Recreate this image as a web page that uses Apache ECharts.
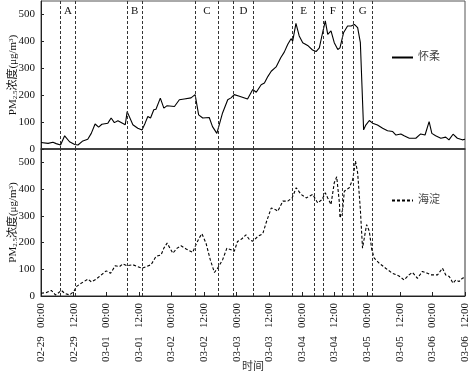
<!DOCTYPE html>
<html>
<head>
<meta charset="utf-8">
<script src="https://cdn.jsdelivr.net/npm/echarts@6/dist/echarts.min.js"></script>
<style>
  html, body { margin: 0; padding: 0; background: #fff; }
  #pmchart { width: 474px; height: 376px; }
</style>
</head>
<body>
<div id="pmchart"></div>
<script>
  // 时间按小时计，从 02-29 00:00 开始
  const huairouHours = [0, 0.7, 2.6, 4.4, 5.6, 7.2, 8.7, 10.5, 12.4, 13.6, 15.4, 17.2, 18.5, 19.9, 21.2, 22.4, 24.6, 25.8, 27.0, 28.3,
    31.0, 31.7, 33.8, 35.6, 37.2, 38.3, 39.3, 40.3, 41.5, 42.3, 43.9, 45.2, 46.4, 49.1, 50.9, 52.7, 55.2, 56.7, 58.0, 59.5,
    61.9, 63.1, 64.7, 65.3, 66.8, 68.7, 69.9, 71.1, 73.0, 76.0, 76.7, 77.9, 79.2, 81.0, 82.2, 83.5, 84.7, 86.5, 88.2, 89.5,
    90.8, 92.0, 92.6, 93.8, 95.0, 96.3, 98.1, 99.9, 101.2, 102.4, 103.6, 104.6, 105.5, 106.7, 107.9, 109.2, 110.0, 111.3, 112.8, 114.1,
    115.3, 116.5, 117.5, 118.1, 118.7, 119.5, 120.8, 122.0, 123.8, 125.7, 127.5, 129.4, 130.6, 132.4, 133.6, 135.5, 137.9, 139.7, 141.3, 142.8,
    143.8, 145.2, 147.1, 148.9, 150.1, 151.6, 153.2, 155.0, 156]
  const huairouPm = [24, 30, 21, 25, 20, 15, 49, 27, 17, 15, 30, 36, 58, 93, 81, 92, 96, 115, 98, 105,
    90, 139, 90, 77, 71, 96, 121, 115, 146, 148, 189, 152, 161, 158, 183, 186, 190, 202, 127, 115,
    117, 83, 58, 60, 134, 183, 190, 202, 196, 186, 193, 221, 211, 239, 245, 270, 289, 305, 339, 360,
    389, 410, 401, 467, 420, 395, 385, 368, 362, 376, 432, 476, 426, 439, 395, 370, 376, 432, 457, 457,
    463, 451, 395, 233, 71, 89, 106, 96, 89, 77, 68, 65, 52, 56, 49, 40, 40, 56, 52, 102,
    58, 49, 40, 44, 34, 55, 40, 34, 36]

  const haidianHours = [0, 0.7, 2.0, 3.8, 5.3, 6.2, 7.5, 8.7, 10.5, 12.1, 13.0, 14.8, 17.3, 18.5, 20.3, 22.2, 24.0, 25.6, 27.3, 28.9,
    30.1, 31.7, 33.8, 35.6, 37.2, 38.7, 40.5, 42.3, 44.2, 45.2, 46.4, 48.5, 50.1, 51.5, 53.4, 55.8, 57.0, 58.2, 59.2, 60.7,
    62.3, 63.8, 65.0, 66.8, 68.4, 69.9, 71.1, 72.3, 73.8, 75.4, 76.7, 77.9, 79.8, 81.6, 82.8, 84.7, 86.3, 87.1, 89.0, 90.8,
    92.4, 93.9, 95.7, 97.6, 98.8, 100.0, 101.8, 103.4, 104.6, 105.5, 106.7, 107.9, 108.8, 109.8, 110.0, 111.0, 111.6, 113.4, 114.7, 115.7,
    116.5, 117.5, 118.3, 118.9, 119.8, 120.8, 121.7, 122.6, 124.4, 126.8, 129.3, 131.7, 133.6, 135.4, 136.7, 138.5, 140.3, 142.2, 143.4, 144.6,
    145.9, 147.7, 148.9, 150.2, 151.6, 152.6, 153.8, 155.0, 156]
  const haidianPm = [10, 4, 13, 21, 4, 10, 21, 10, 4, 17, 35, 48, 63, 53, 63, 79, 94, 85, 113, 110,
    120, 113, 117, 110, 104, 110, 117, 148, 154, 179, 198, 160, 179, 188, 176, 163, 192, 217, 233, 198,
    135, 88, 104, 135, 179, 173, 167, 204, 213, 229, 211, 205, 223, 233, 273, 329, 323, 317, 355, 355,
    367, 405, 380, 367, 374, 380, 348, 361, 386, 367, 342, 424, 446, 348, 292, 323, 392, 405, 436, 505,
    461, 323, 179, 179, 267, 242, 173, 142, 123, 104, 85, 75, 60, 79, 88, 66, 92, 85, 79, 79,
    79, 104, 79, 73, 48, 60, 54, 66, 70]

  const tickLabels = ['02-29   00:00', '02-29   12:00', '03-01   00:00', '03-01   12:00', '03-02   00:00', '03-02   12:00', '03-03   00:00',
    '03-03   12:00', '03-04   00:00', '03-04   12:00', '03-05   00:00', '03-05   12:00', '03-06   00:00', '03-06   12:00']

  const periodNames = ['A', 'B', 'C', 'D', 'E', 'F', 'G']
  const periodStart = [7.2, 31.7, 56.7, 70.9, 92.6, 103.9, 115.0]
  const periodEnd = [12.7, 37.3, 65.3, 78.0, 100.6, 110.8, 121.8]

  const serif = "'Liberation Serif', 'Noto Sans CJK SC', serif"

  const pmChart = echarts.init(document.getElementById('pmchart'))

  const toPairs = (xs, ys) => xs.map((x, i) => [x, ys[i]])
  const bounds = periodStart.concat(periodEnd).map(v => ({ xAxis: v }))

  const markLine = {
    silent: true,
    symbol: 'none',
    label: { show: false },
    lineStyle: { color: '#333', type: [3, 2], width: 1 },
    data: bounds
  }

  const yAxisBase = (gridIndex) => ({
    type: 'value',
    gridIndex: gridIndex,
    min: 0,
    max: 550,
    interval: 100,
    name: 'PM{sub|2.5}浓度(μg/m{sup|3})',
    nameLocation: 'middle',
    nameGap: 22,
    nameMoveOverlap: false,
    nameTextStyle: {
      fontFamily: serif,
      fontSize: 11,
      color: '#111',
      rich: {
        sub: { fontSize: 7, fontFamily: serif, verticalAlign: 'bottom', color: '#111' },
        sup: { fontSize: 7, fontFamily: serif, verticalAlign: 'top', color: '#111' }
      }
    },
    axisLine: { show: true, lineStyle: { color: '#222' } },
    axisTick: { show: true, inside: true, length: 3, lineStyle: { color: '#222' } },
    axisLabel: { fontFamily: serif, fontSize: 11, color: '#111', margin: 6, showMaxLabel: false },
    splitLine: { show: false }
  })

  const legendBase = {
    itemWidth: 21,
    itemHeight: 12,
    itemStyle: { opacity: 0 },
    textStyle: { fontSize: 11, color: '#444', fontFamily: serif }
  }

  pmChart.setOption({
    animation: false,
    backgroundColor: '#fff',
    grid: [
      { left: 41, right: 9, top: 1, height: 148, show: true, borderColor: '#555', borderWidth: 1, outerBoundsMode: 'none' },
      { left: 41, right: 9, top: 149, height: 147, show: true, borderColor: '#333', borderWidth: 1, outerBoundsMode: 'none' }
    ],
    xAxis: [
      {
        type: 'value', gridIndex: 0, min: 0, max: 156, interval: 12,
        axisLine: { lineStyle: { color: '#333', width: 1.5 } },
        axisTick: { show: false },
        axisLabel: { show: false },
        splitLine: { show: false }
      },
      {
        type: 'value', gridIndex: 1, min: 0, max: 156, interval: 12,
        name: '时间',
        nameLocation: 'middle',
        nameGap: 66,
        nameMoveOverlap: false,
        nameTextStyle: { fontFamily: serif, fontSize: 11, color: '#333' },
        axisLine: { lineStyle: { color: '#222' } },
        axisTick: { inside: true, length: 4, lineStyle: { color: '#222' } },
        axisLabel: {
          rotate: 90,
          fontFamily: serif,
          fontSize: 11,
          color: '#111',
          margin: 7,
          formatter: (v) => tickLabels[Math.round(v / 12)] || ''
        },
        splitLine: { show: false }
      }
    ],
    yAxis: [yAxisBase(0), yAxisBase(1)],
    legend: [
      Object.assign({ data: ['怀柔'], left: 386, top: 47 }, legendBase),
      Object.assign({ data: ['海淀'], left: 386, top: 190 }, legendBase)
    ],
    series: [
      {
        name: '怀柔',
        type: 'line',
        xAxisIndex: 0,
        yAxisIndex: 0,
        symbol: 'none',
        data: toPairs(huairouHours, huairouPm),
        lineStyle: { color: '#000', width: 1.1 },
        itemStyle: { color: '#000' },
        markLine: markLine,
        markArea: {
          silent: true,
          itemStyle: { color: 'rgba(0,0,0,0)' },
          label: { position: 'insideTop', distance: 5, fontFamily: serif, fontSize: 11, color: '#111' },
          data: periodNames.map((n, i) => [{ name: n, xAxis: periodStart[i] }, { xAxis: periodEnd[i] }])
        }
      },
      {
        name: '海淀',
        type: 'line',
        xAxisIndex: 1,
        yAxisIndex: 1,
        symbol: 'none',
        data: toPairs(haidianHours, haidianPm),
        lineStyle: { color: '#000', width: 1.1, type: [3, 2] },
        itemStyle: { color: '#000' },
        markLine: markLine
      }
    ]
  })
</script>
</body>
</html>
